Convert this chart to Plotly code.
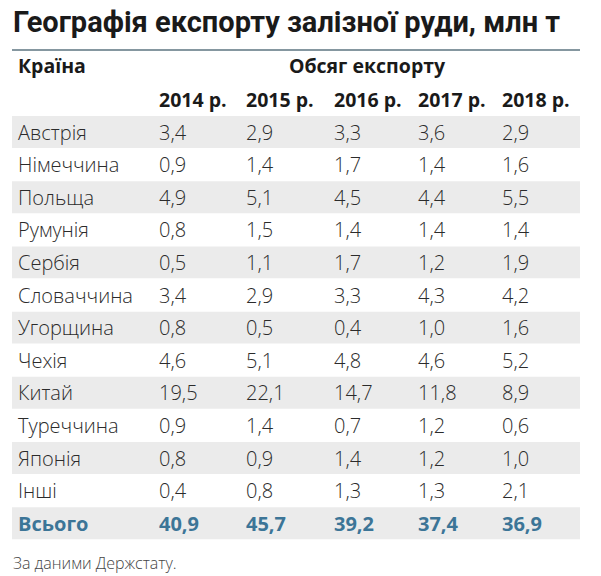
import plotly.graph_objects as go

title = "Географія експорту залізної руди, млн т"
country_header = "Країна"
group_header = "Обсяг експорту"
years = ["2014 р.", "2015 р.", "2016 р.", "2017 р.", "2018 р."]
countries = ["Австрія", "Німеччина", "Польща", "Румунія", "Сербія", "Словаччина",
             "Угорщина", "Чехія", "Китай", "Туреччина", "Японія", "Інші"]
v2014 = ["3,4", "0,9", "4,9", "0,8", "0,5", "3,4", "0,8", "4,6", "19,5", "0,9", "0,8", "0,4"]
v2015 = ["2,9", "1,4", "5,1", "1,5", "1,1", "2,9", "0,5", "5,1", "22,1", "1,4", "0,9", "0,8"]
v2016 = ["3,3", "1,7", "4,5", "1,4", "1,7", "3,3", "0,4", "4,8", "14,7", "0,7", "1,4", "1,3"]
v2017 = ["3,6", "1,4", "4,4", "1,4", "1,2", "4,3", "1,0", "4,6", "11,8", "1,2", "1,2", "1,3"]
v2018 = ["2,9", "1,6", "5,5", "1,4", "1,9", "4,2", "1,6", "5,2", "8,9", "0,6", "1,0", "2,1"]
total_label = "Всього"
totals = ["40,9", "45,7", "39,2", "37,4", "36,9"]
source = "За даними Держстату."

FONT = "Open Sans"
ROW0 = 132.0   # pixel centre of first row
PITCH = 32.6
W, H = 601, 576
col_x = [159, 246, 334, 418, 502]
name_x = 18
TEXT_SHIFT = 0.08  # text sits slightly below stripe centre

columns = [v2014, v2015, v2016, v2017, v2018]
n = len(countries)

fig = go.Figure()

shapes = []
for i in range(n + 1):
    if i % 2 == 0:
        shapes.append(dict(type="rect", xref="x", yref="y", x0=12, x1=580,
                           y0=i - 0.49, y1=i + 0.49, fillcolor="#ebebeb",
                           line=dict(width=0), layer="below"))
shapes.append(dict(type="line", xref="x", yref="y", x0=12, x1=580,
                   y0=(50 - ROW0) / PITCH, y1=(50 - ROW0) / PITCH,
                   line=dict(color="#5d7480", width=1.5)))

rows = [i + TEXT_SHIFT for i in range(n)]
body_font = dict(family=FONT, size=20, color="#2b2b2b", weight=300)
fig.add_trace(go.Scatter(x=[name_x] * n, y=rows, text=countries, mode="text",
                         textposition="middle right", textfont=body_font,
                         hoverinfo="skip"))
for cx, vals in zip(col_x, columns):
    fig.add_trace(go.Scatter(x=[cx] * n, y=rows, text=vals, mode="text",
                             textposition="middle right", textfont=body_font,
                             hoverinfo="skip"))
fig.add_trace(go.Scatter(x=[name_x] + col_x, y=[n + TEXT_SHIFT] * 6,
                         text=[total_label] + totals,
                         mode="text", textposition="middle right",
                         textfont=dict(family=FONT, size=20, color="#3c7597", weight=700),
                         hoverinfo="skip"))
head_font = dict(family=FONT, size=19.5, color="#1a1a1a", weight=700)
hy = (102 - ROW0) / PITCH
fig.add_trace(go.Scatter(x=col_x, y=[hy] * 5, text=years, mode="text",
                         textposition="middle right", textfont=head_font,
                         hoverinfo="skip"))
gy = (68 - ROW0) / PITCH
fig.add_trace(go.Scatter(x=[name_x], y=[gy], text=[country_header], mode="text",
                         textposition="middle right", textfont=head_font,
                         hoverinfo="skip"))
fig.add_trace(go.Scatter(x=[367], y=[gy], text=[group_header], mode="text",
                         textposition="middle center", textfont=head_font,
                         hoverinfo="skip"))

annotations = [
    dict(text=title, x=11, y=(22 - ROW0) / PITCH, xref="x", yref="y", xanchor="left",
         yanchor="middle", showarrow=False,
         font=dict(family="Roboto", size=29, color="#1a1a1a", weight=700)),
    dict(text=source, x=11, y=(563 - ROW0) / PITCH, xref="x", yref="y", xanchor="left",
         yanchor="middle", showarrow=False,
         font=dict(family=FONT, size=16, color="#444444", weight=300)),
]

fig.update_layout(
    width=W, height=H, margin=dict(l=0, r=0, t=0, b=0),
    paper_bgcolor="white", plot_bgcolor="white", showlegend=False,
    shapes=shapes, annotations=annotations,
    xaxis=dict(range=[0, W], visible=False, fixedrange=True),
    yaxis=dict(range=[(H - ROW0) / PITCH, -ROW0 / PITCH], visible=False, fixedrange=True),
)
fig.write_html("out.html", config={"displayModeBar": False},
               post_script="document.body.style.margin='0px';")
